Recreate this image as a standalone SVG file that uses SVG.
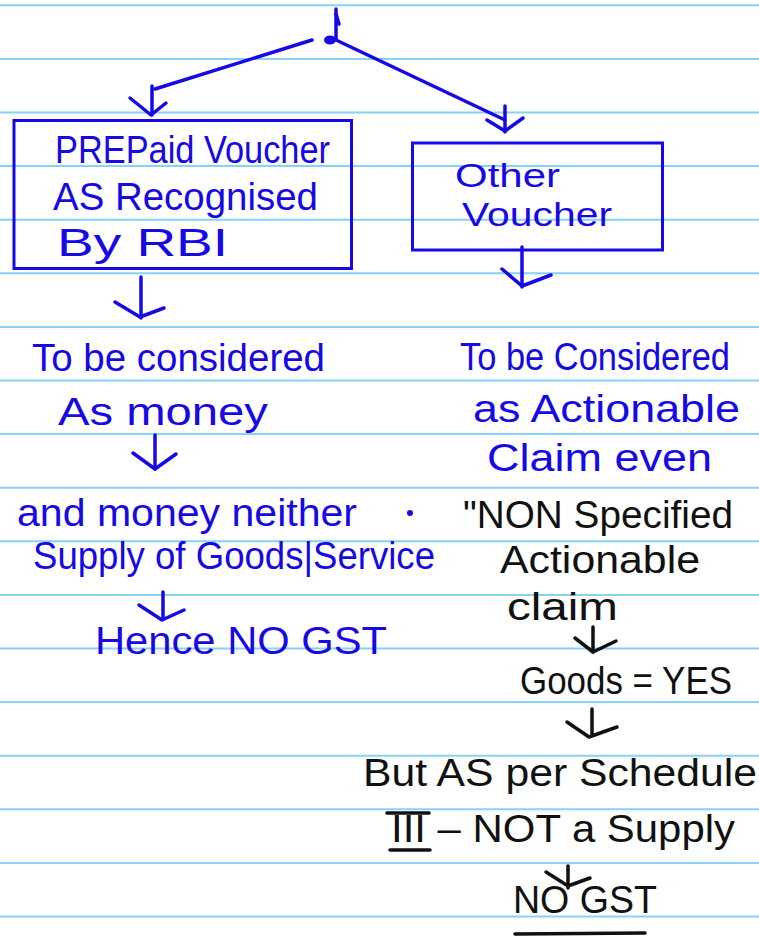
<svg xmlns="http://www.w3.org/2000/svg" width="759" height="941" viewBox="0 0 759 941">
  <style>
    .rule { stroke: #86d2f8; stroke-width: 2; }
    .ink { fill: #1708e6; font-family: "Liberation Sans", "DejaVu Sans", sans-serif; font-size: 38px; }
    .dark { fill: #111111; font-family: "Liberation Sans", "DejaVu Sans", sans-serif; font-size: 38px; }
    .box { fill: none; stroke: #1708e6; stroke-width: 3; }
    .wire { fill: none; stroke: #1708e6; stroke-width: 3.5; stroke-linecap: round; stroke-linejoin: round; }
    .wire-dark { fill: none; stroke: #111111; stroke-width: 3.5; stroke-linecap: round; stroke-linejoin: round; }
  </style>

  <!-- ruled notebook paper -->
  <rect x="0" y="0" width="759" height="941" fill="#ffffff"/>
  <g id="ruling">
    <line class="rule" x1="0" y1="5.3" x2="759" y2="5.3"/>
    <line class="rule" x1="0" y1="58.9" x2="759" y2="58.9"/>
    <line class="rule" x1="0" y1="112.5" x2="759" y2="112.5"/>
    <line class="rule" x1="0" y1="166.1" x2="759" y2="166.1"/>
    <line class="rule" x1="0" y1="219.7" x2="759" y2="219.7"/>
    <line class="rule" x1="0" y1="273.3" x2="759" y2="273.3"/>
    <line class="rule" x1="0" y1="326.9" x2="759" y2="326.9"/>
    <line class="rule" x1="0" y1="380.5" x2="759" y2="380.5"/>
    <line class="rule" x1="0" y1="434.1" x2="759" y2="434.1"/>
    <line class="rule" x1="0" y1="487.7" x2="759" y2="487.7"/>
    <line class="rule" x1="0" y1="541.3" x2="759" y2="541.3"/>
    <line class="rule" x1="0" y1="594.9" x2="759" y2="594.9"/>
    <line class="rule" x1="0" y1="648.5" x2="759" y2="648.5"/>
    <line class="rule" x1="0" y1="702.1" x2="759" y2="702.1"/>
    <line class="rule" x1="0" y1="755.7" x2="759" y2="755.7"/>
    <line class="rule" x1="0" y1="809.3" x2="759" y2="809.3"/>
    <line class="rule" x1="0" y1="862.9" x2="759" y2="862.9"/>
    <line class="rule" x1="0" y1="916.5" x2="759" y2="916.5"/>
  </g>

  <!-- connectors -->
  <g id="connectors">
    <!-- root stroke and split -->
    <path class="wire" d="M336 9 L336 40"/>
    <path class="wire" d="M336 14 L339 24"/>
    <ellipse cx="330" cy="40" rx="6" ry="4.5" fill="#1708e6"/>
    <path class="wire" d="M312 40 L155 89"/>
    <path class="wire" d="M336 40 L505 120"/>
    <!-- into prepaid voucher -->
    <path class="wire" d="M152 86 L152 115"/>
    <path class="wire" d="M130 98 L151 115 L166 103"/>
    <!-- into other voucher -->
    <path class="wire" d="M505 106 L505 132"/>
    <path class="wire" d="M487 120 L505 131 L523 118"/>
    <!-- prepaid voucher to considered as money -->
    <path class="wire" d="M141 277 L141 318"/>
    <path class="wire" d="M115 302 L140 317 L164 308"/>
    <!-- other voucher to actionable claim -->
    <path class="wire" d="M522 247 L522 287"/>
    <path class="wire" d="M502 269 L522 286 L551 275"/>
    <!-- as money to neither -->
    <path class="wire" d="M155 435 L155 469"/>
    <path class="wire" d="M133 453 L155 469 L176 454"/>
    <!-- supply to hence no gst -->
    <path class="wire" d="M163 592 L163 619"/>
    <path class="wire" d="M139 605 L162 620 L184 610"/>
    <!-- claim to goods -->
    <path class="wire-dark" d="M593 627 L593 652"/>
    <path class="wire-dark" d="M575 638 L593 652 L616 641"/>
    <!-- goods to schedule -->
    <path class="wire-dark" d="M592 709 L592 735"/>
    <path class="wire-dark" d="M567 722 L589 737 L617 727"/>
    <!-- schedule to no gst -->
    <path class="wire-dark" d="M568 866 L568 888"/>
    <path class="wire-dark" d="M546 872 L568 886 L590 878"/>
  </g>

  <!-- prepaid voucher box -->
  <g id="prepaid-voucher">
    <rect class="box" x="14" y="120.5" width="337.5" height="148"/>
    <text class="ink" x="55" y="163" textLength="275" lengthAdjust="spacingAndGlyphs">PREPaid Voucher</text>
    <text class="ink" x="53" y="210" textLength="265" lengthAdjust="spacingAndGlyphs">AS Recognised</text>
    <text class="ink" x="57" y="256" textLength="171" lengthAdjust="spacingAndGlyphs">By  RBI</text>
  </g>

  <!-- other voucher box -->
  <g id="other-voucher">
    <rect class="box" x="412.5" y="143" width="250" height="107"/>
    <text class="ink" x="455" y="187" textLength="105" lengthAdjust="spacingAndGlyphs" style="font-size:34px">Other</text>
    <text class="ink" x="462" y="226" textLength="150" lengthAdjust="spacingAndGlyphs" style="font-size:34px">Voucher</text>
  </g>

  <!-- left branch: treated as money -->
  <g id="as-money">
    <text class="ink" x="32" y="371" textLength="293" lengthAdjust="spacingAndGlyphs">To be considered</text>
    <text class="ink" x="58" y="425" textLength="210" lengthAdjust="spacingAndGlyphs">As money</text>
  </g>
  <g id="neither-supply">
    <text class="ink" x="17" y="526" textLength="340" lengthAdjust="spacingAndGlyphs">and money neither</text>
    <circle cx="410" cy="513" r="3" fill="#1708e6"/>
    <text class="ink" x="33" y="569" textLength="402" lengthAdjust="spacingAndGlyphs">Supply of Goods|Service</text>
  </g>
  <g id="hence-no-gst">
    <text class="ink" x="95" y="654" textLength="292" lengthAdjust="spacingAndGlyphs">Hence  NO  GST</text>
  </g>

  <!-- right branch: actionable claim -->
  <g id="actionable-claim">
    <text class="ink" x="460" y="370" textLength="270" lengthAdjust="spacingAndGlyphs">To be Considered</text>
    <text class="ink" x="473" y="422" textLength="267" lengthAdjust="spacingAndGlyphs">as Actionable</text>
    <text class="ink" x="487" y="471" textLength="225" lengthAdjust="spacingAndGlyphs">Claim even</text>
    <text class="dark" x="463" y="528" textLength="270" lengthAdjust="spacingAndGlyphs">"NON Specified</text>
    <text class="dark" x="500" y="573" textLength="200" lengthAdjust="spacingAndGlyphs">Actionable</text>
    <text class="dark" x="507" y="620" textLength="111" lengthAdjust="spacingAndGlyphs">claim</text>
  </g>
  <g id="goods-yes">
    <text class="dark" x="520" y="694" textLength="212" lengthAdjust="spacingAndGlyphs">Goods = YES</text>
  </g>
  <g id="schedule-iii">
    <text class="dark" x="363" y="786" textLength="394" lengthAdjust="spacingAndGlyphs">But AS per Schedule</text>
    <text class="dark" x="391" y="842" textLength="344" lengthAdjust="spacingAndGlyphs">III – NOT a Supply</text>
    <path class="wire-dark" d="M387 813 L429 813 M390 850 L430 850" stroke-width="2.5"/>
  </g>
  <g id="no-gst">
    <text class="dark" x="513" y="913" textLength="144" lengthAdjust="spacingAndGlyphs">NO GST</text>
    <path class="wire-dark" d="M515 934 L645 933"/>
  </g>
</svg>
